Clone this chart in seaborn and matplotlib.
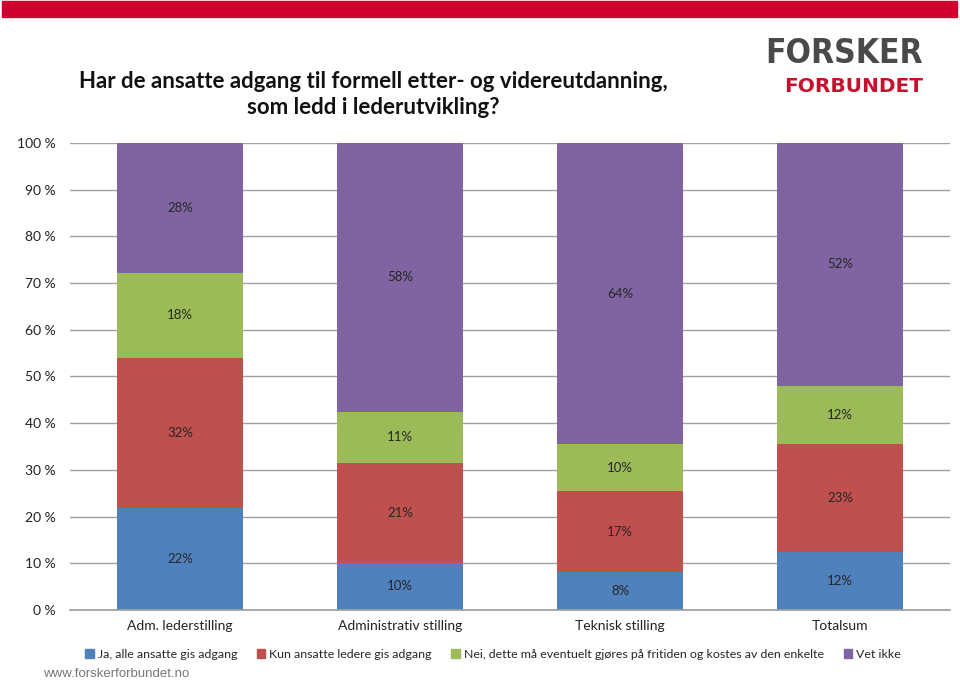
import matplotlib
matplotlib.use("Agg")
import matplotlib.pyplot as plt
import matplotlib.patches as mpatches
import seaborn as sns
import pandas as pd
import numpy as np

categories = ["Adm. lederstilling", "Administrativ stilling", "Teknisk stilling", "Totalsum"]
series_names = ["Ja, alle ansatte gis adgang",
                "Kun ansatte ledere gis adgang",
                "Nei, dette må eventuelt gjøres på fritiden og kostes av den enkelte",
                "Vet ikke"]
ja = [21.8, 10.1, 8.1, 12.4]
kun = [32.2, 21.4, 17.4, 23.1]
nei = [18.2, 10.9, 10.0, 12.5]
vet = [27.8, 57.6, 64.5, 52.0]
colors = ["#4F81BD", "#C0504D", "#9BBB59", "#8064A2"]
yticks = [0, 10, 20, 30, 40, 50, 60, 70, 80, 90, 100]

sns.set_theme(style="white")
plt.rcParams["font.family"] = ["Lato", "DejaVu Sans"]

fig = plt.figure(figsize=(9.6, 6.81), dpi=100)
ax = fig.add_axes([0.0729, 0.1043, 0.9167, 0.6857])

vals = [ja, kun, nei, vet]
cum = np.cumsum(np.array(vals), axis=0)
for i in range(3, -1, -1):
    df = pd.DataFrame({"cat": categories, "v": cum[i]})
    sns.barplot(data=df, x="cat", y="v", order=categories, color=colors[i],
                saturation=1, width=0.573, ax=ax, zorder=2, linewidth=0,
                edgecolor="none")

for i in range(4):
    for j in range(4):
        bottom = cum[i][j] - vals[i][j]
        ax.text(j, bottom + vals[i][j] / 2, f"{round(vals[i][j])}%",
                ha="center", va="center", fontsize=9.5, color="#262626", zorder=3)

ax.set_ylim(0, 100)
ax.set_xlim(-0.5, 3.5)
ax.set_yticks(yticks)
ax.set_yticklabels([f"{t} %" for t in yticks], fontsize=10, color="#222222")
ax.yaxis.grid(True, color="#A0A0A0", linewidth=1, zorder=0)
ax.set_axisbelow(True)
ax.tick_params(axis="y", length=0, pad=10)
ax.tick_params(axis="x", length=0, pad=7, labelsize=10, labelcolor="#222222")
ax.set_xlabel("")
ax.set_ylabel("")
for s in ["top", "right", "left"]:
    ax.spines[s].set_visible(False)
ax.spines["bottom"].set_color("#A0A0A0")

handles = [mpatches.Patch(color=c, label=n) for c, n in zip(colors, series_names)]
fig.legend(handles=handles, loc="center", bbox_to_anchor=(0.5135, 0.039), ncol=4,
           frameon=False, fontsize=8.9, handlelength=0.7, handleheight=0.7,
           handletextpad=0.3, columnspacing=1.6)

# top red band
fig.patches.append(mpatches.Rectangle((0.002, 0.975), 0.995, 0.0235, transform=fig.transFigure,
                                      color="#D0002F", zorder=5))

fig.text(0.389, 0.88, "Har de ansatte adgang til formell etter- og videreutdanning,",
         ha="center", va="center", fontsize=16, fontweight="bold", color="#111111")
fig.text(0.389, 0.842, "som ledd i lederutvikling?",
         ha="center", va="center", fontsize=16, fontweight="bold", color="#111111")

fig.text(0.9615, 0.922, "FORSKER", ha="right", va="center", fontsize=24, fontweight="bold",
         color="#4A4A4C", family=["DejaVu Sans"], fontstretch="condensed")
fig.text(0.9615, 0.873, "FORBUNDET", ha="right", va="center", fontsize=14.5,
         fontweight="bold", color="#C8102E", family=["DejaVu Sans"])

fig.text(0.045, 0.002, "www.forskerforbundet.no", ha="left", va="bottom", fontsize=9.5,
         color="#777777", family=["Liberation Sans"])

fig.savefig("out.png", dpi=100)
